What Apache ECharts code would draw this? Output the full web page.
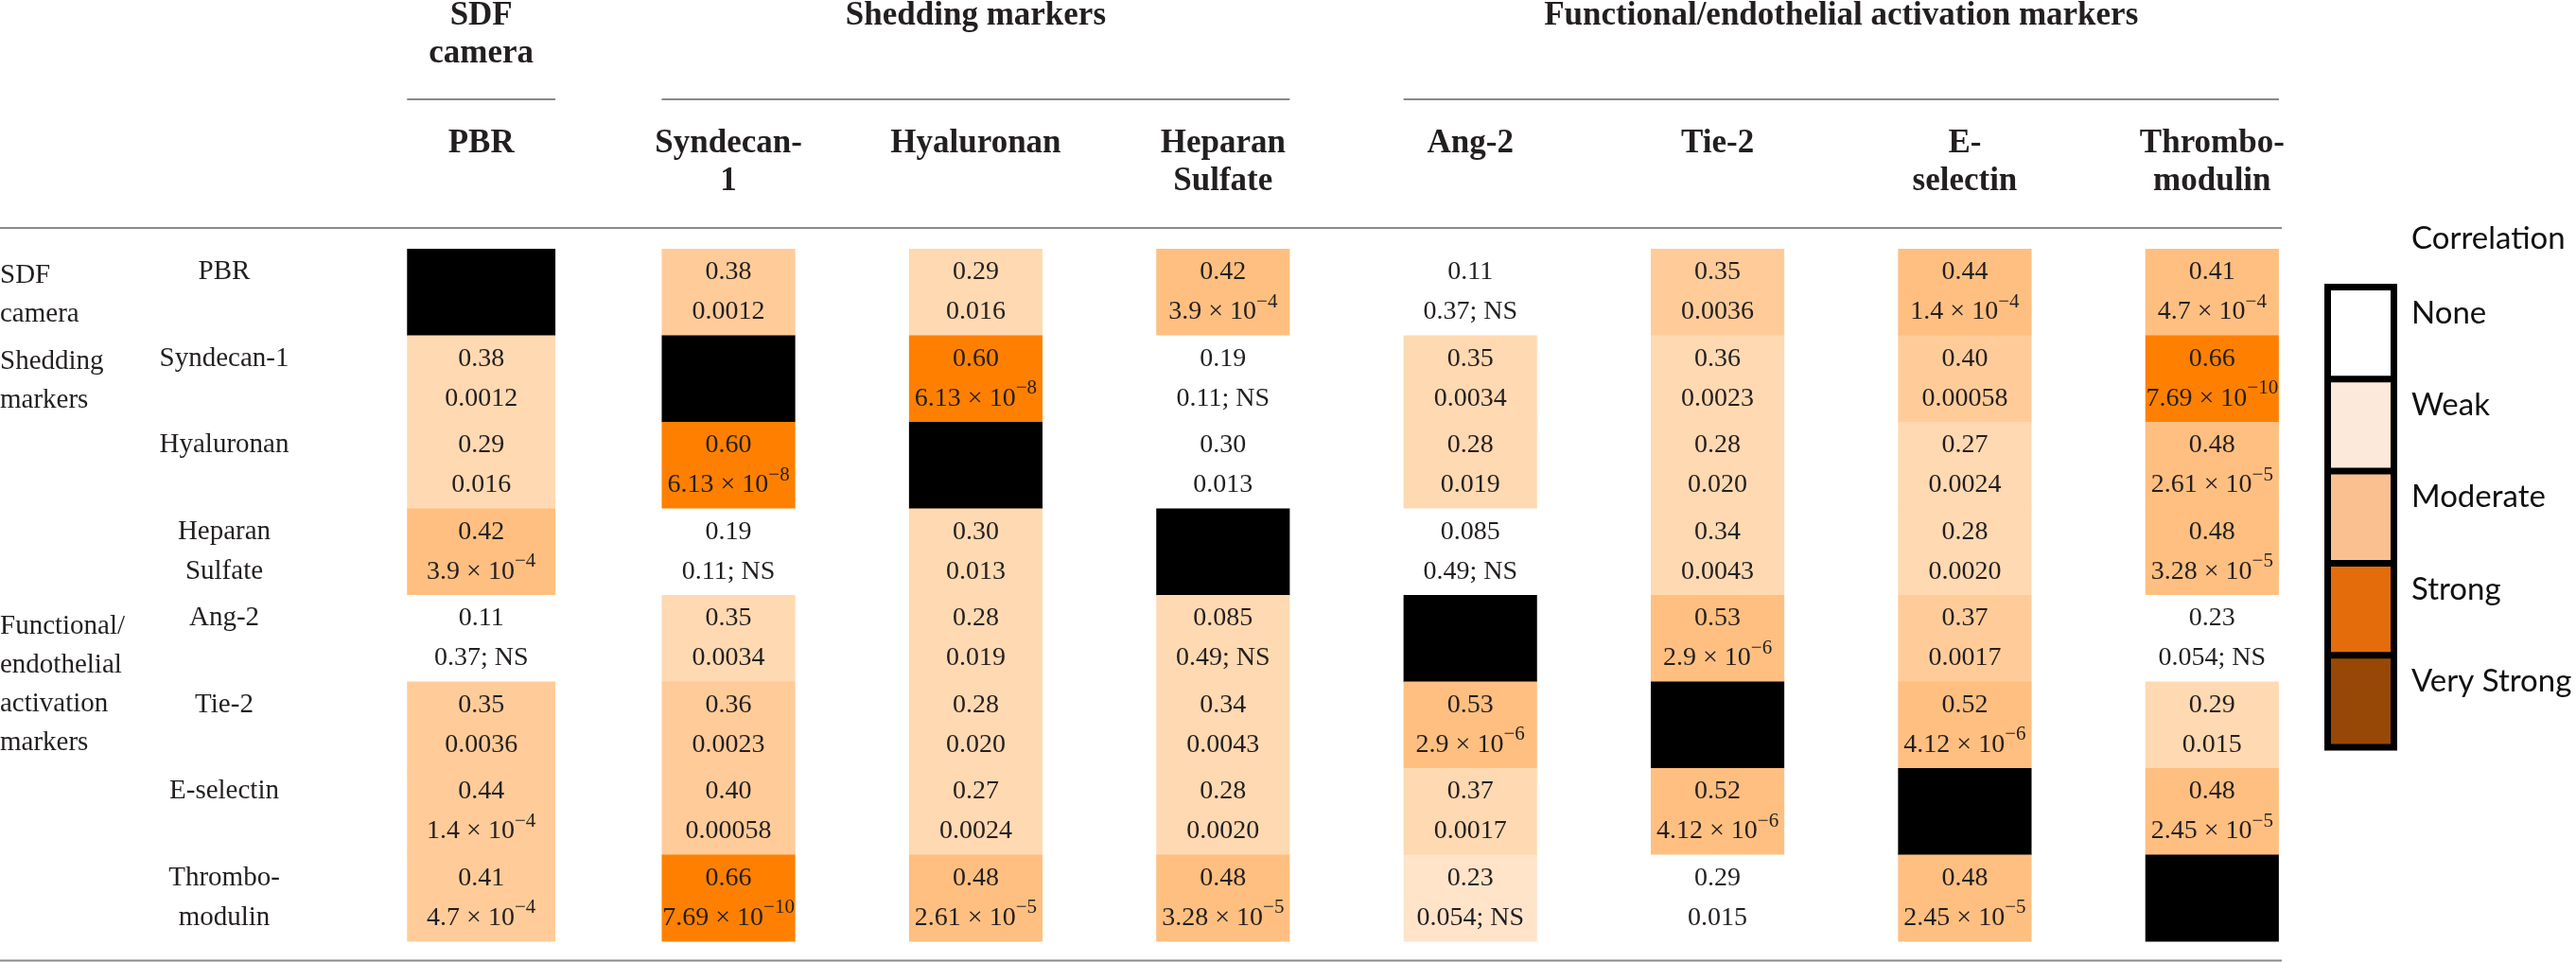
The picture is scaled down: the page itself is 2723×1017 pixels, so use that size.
<!DOCTYPE html>
<html><head><meta charset="utf-8">
<script src="https://cdn.jsdelivr.net/npm/echarts@6/dist/echarts.min.js"></script>
<style>html,body{margin:0;padding:0;background:#fff}#c{width:2723px;height:1017px}</style>
</head><body><div id="c"></div>
<script>
// ---------- data ----------
const colLabels = ['PBR','Syndecan-\n1','Hyaluronan','Heparan\nSulfate','Ang-2','Tie-2','E-\nselectin','Thrombo-\nmodulin'];
const rowLabels = ['PBR','Syndecan-1','Hyaluronan','Heparan\nSulfate','Ang-2','Tie-2','E-selectin','Thrombo-\nmodulin'];
const topGroups = ['SDF\ncamera','Shedding markers','Functional/endothelial activation markers'];
const topGroupCols = [[0,0],[1,3],[4,7]];
const leftGroups = ['SDF\ncamera','Shedding\nmarkers','Functional/\nendothelial\nactivation\nmarkers'];
const leftGroupRows = [[0,0],[1,1],[4,5]];
const rValues = [
 [null,0.38,0.29,0.42,0.11,0.35,0.44,0.41],
 [0.38,null,0.60,0.19,0.35,0.36,0.40,0.66],
 [0.29,0.60,null,0.30,0.28,0.28,0.27,0.48],
 [0.42,0.19,0.30,null,0.085,0.34,0.28,0.48],
 [0.11,0.35,0.28,0.085,null,0.53,0.37,0.23],
 [0.35,0.36,0.28,0.34,0.53,null,0.52,0.29],
 [0.44,0.40,0.27,0.28,0.37,0.52,null,0.48],
 [0.41,0.66,0.48,0.48,0.23,0.29,0.48,null]
];
const pValues = [
 [null,'0.0012','0.016','3.9e-4','0.37; NS','0.0036','1.4e-4','4.7e-4'],
 ['0.0012',null,'6.13e-8','0.11; NS','0.0034','0.0023','0.00058','7.69e-10'],
 ['0.016','6.13e-8',null,'0.013','0.019','0.020','0.0024','2.61e-5'],
 ['3.9e-4','0.11; NS','0.013',null,'0.49; NS','0.0043','0.0020','3.28e-5'],
 ['0.37; NS','0.0034','0.019','0.49; NS',null,'2.9e-6','0.0017','0.054; NS'],
 ['0.0036','0.0023','0.020','0.0043','2.9e-6',null,'4.12e-6','0.015'],
 ['1.4e-4','0.00058','0.0024','0.0020','0.0017','4.12e-6',null,'2.45e-5'],
 ['4.7e-4','7.69e-10','2.61e-5','3.28e-5','0.054; NS','0.015','2.45e-5',null]
];
// shade level of each cell (6 = diagonal)
const shadeLevels = [
 [6,3,2,4,0,3,4,4],
 [2,6,5,0,2,2,3,5],
 [2,5,6,0,2,2,2,4],
 [4,0,2,6,0,2,2,4],
 [0,2,2,2,6,4,3,0],
 [3,3,2,2,4,6,4,2],
 [3,3,2,2,2,4,6,4],
 [3,5,4,4,1,0,4,6]
];
const legendTitle = 'Correlation';
const legendLabels = ['None','Weak','Moderate','Strong','Very Strong'];

// ---------- styles ----------
const shadeColors = ['#FFFFFF','#FFE4CA','#FFD9B1','#FFCC99','#FFBF80','#FF8000','#000000'];
const legendColors = ['#FFFFFF','#FDE9D9','#FAC090','#E46C0A','#974806'];
const TXT = '#231f20';
const SERIF = '"Liberation Serif","Times New Roman",serif';
const SANS = 'Lato,"Open Sans",sans-serif';

const data = [];
for (let i = 0; i < rowLabels.length; i++)
  for (let j = 0; j < colLabels.length; j++) data.push([j, i]);

function fmtR(v){ return v < 0.1 ? v.toFixed(3) : v.toFixed(2); }
function fmtP(p){
  const m = /^([\d.]+)e-(\d+)$/.exec(p);
  if (m) return '{v|' + m[1] + ' \u00d7 10}{s|\u2212' + m[2] + '}';
  return '{v|' + p + '}';
}
const rich = {
  v: {fontFamily: SERIF, fontSize: 28, lineHeight: 42, fill: TXT, color: TXT},
  s: {fontFamily: SERIF, fontSize: 21, lineHeight: 24, verticalAlign: 'top', fill: TXT, color: TXT}
};

function renderItem(params, api){
  const j = api.value(0), i = api.value(1);
  const c = api.coord([j, i]);
  const band = api.size([1, 1]);
  const w = band[0] * (j === 0 ? 0.60 : 0.54);
  const lvl = shadeLevels[i][j];
  const children = [{
    type: 'rect',
    shape: {x: c[0] - w / 2, y: c[1] - band[1] / 2, width: w, height: band[1] + 0.5},
    style: {fill: shadeColors[lvl]}
  }];
  if (rValues[i][j] != null) {
    children.push({
      type: 'text',
      style: {
        x: c[0], y: c[1], align: 'center', verticalAlign: 'middle',
        text: '{v|' + fmtR(rValues[i][j]) + '}\n' + fmtP(pValues[i][j]),
        rich: rich, fill: TXT, fontFamily: SERIF, fontSize: 28
      }
    });
  }
  return {type: 'group', children: children};
}

const chart = echarts.init(document.getElementById('c'), null, {renderer: 'canvas'});
chart.setOption({
  animation: false,
  backgroundColor: '#ffffff',
  grid: {left: 378, right: 254, top: 263, bottom: 22},
  xAxis: {
    type: 'category', data: colLabels, position: 'top',
    axisLine: {show: false}, axisTick: {show: false}, splitLine: {show: false},
    axisLabel: {interval: 0, margin: 131, verticalAlign: 'top', color: TXT,
      fontFamily: SERIF, fontWeight: 'bold', fontSize: 35, lineHeight: 40}
  },
  yAxis: {
    type: 'category', data: rowLabels, inverse: true,
    axisLine: {show: false}, axisTick: {show: false}, splitLine: {show: false},
    axisLabel: {interval: 0, margin: 141, align: 'center', color: TXT,
      fontFamily: SERIF, fontSize: 29, lineHeight: 42,
      formatter: v => v.indexOf('\n') >= 0 ? v : v + '\n\u00a0'}
  },
  series: [{type: 'custom', renderItem: renderItem, data: data, silent: true}]
});

// ---------- annotations positioned from the axes ----------
const p00 = chart.convertToPixel({seriesIndex: 0}, [0, 0]);
const p11 = chart.convertToPixel({seriesIndex: 0}, [1, 1]);
const bw = p11[0] - p00[0];
function colCenter(j){ return chart.convertToPixel({seriesIndex: 0}, [j, 0])[0]; }
function rowCenter(i){ return chart.convertToPixel({seriesIndex: 0}, [0, i])[1]; }
function cellHalf(j){ return bw * (j === 0 ? 0.60 : 0.54) / 2; }

const g = [];
topGroups.forEach((t, k) => {
  const a = colCenter(topGroupCols[k][0]) - cellHalf(topGroupCols[k][0]);
  const b = colCenter(topGroupCols[k][1]) + cellHalf(topGroupCols[k][1]);
  g.push({type: 'text', x: (a + b) / 2, y: -3, style: {text: t, align: 'center', verticalAlign: 'top',
    fill: TXT, fontFamily: SERIF, fontWeight: 'bold', fontSize: 35, lineHeight: 40}});
  g.push({type: 'line', shape: {x1: a, y1: 105, x2: b, y2: 105}, style: {stroke: '#8a8a8a', lineWidth: 2}});
});
leftGroups.forEach((t, k) => {
  const y = (rowCenter(leftGroupRows[k][0]) + rowCenter(leftGroupRows[k][1])) / 2;
  g.push({type: 'text', x: 0, y: y + 3, style: {text: t, align: 'left', verticalAlign: 'middle',
    fill: TXT, fontFamily: SERIF, fontSize: 29, lineHeight: 41}});
});
g.push({type: 'line', shape: {x1: 0, y1: 241, x2: 2412, y2: 241}, style: {stroke: '#8a8a8a', lineWidth: 2}});
g.push({type: 'line', shape: {x1: 0, y1: 1015.5, x2: 2412, y2: 1015.5}, style: {stroke: '#8a8a8a', lineWidth: 2}});

// legend
const LX = 2457, LY = 300, LW = 77, B = 7, SH = 90.3;
g.push({type: 'text', x: 2549, y: 252, style: {text: legendTitle, align: 'left', verticalAlign: 'middle',
  fill: '#111', fontFamily: SANS, fontSize: 33}});
g.push({type: 'rect', shape: {x: LX, y: LY, width: LW, height: B + legendLabels.length * (SH + B)}, style: {fill: '#000'}});
legendLabels.forEach((t, k) => {
  const y0 = LY + B + k * (SH + B);
  g.push({type: 'rect', shape: {x: LX + B, y: y0, width: LW - 2 * B, height: SH}, style: {fill: legendColors[k]}});
  g.push({type: 'text', x: 2549, y: y0 + SH / 2 - 21, style: {text: t, align: 'left', verticalAlign: 'middle',
    fill: '#111', fontFamily: SANS, fontSize: 33}});
});
chart.setOption({graphic: g});
</script></body></html>
